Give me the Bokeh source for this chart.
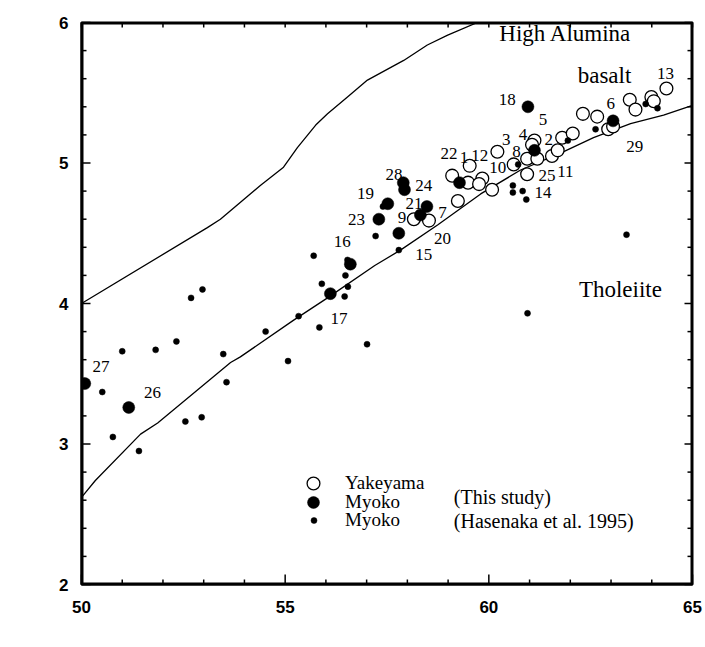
from bokeh.plotting import figure
from bokeh.models import LinearAxis, FixedTicker, Range1d, Label, Legend, LegendItem
from bokeh.core.properties import value
from bokeh.embed import file_html
from bokeh.resources import INLINE
import math

# ---------------- data ----------------
yake_x = [58.16, 58.53, 59.24, 59.10, 59.53, 59.49, 59.84, 59.76, 60.08, 60.21,
          60.61, 60.94, 60.94, 61.12, 61.06, 61.19, 61.55, 61.69, 61.80, 62.06,
          62.31, 62.66, 62.93, 63.05, 63.46, 63.60, 63.99, 64.05, 64.36]
yake_y = [4.60, 4.59, 4.73, 4.91, 4.98, 4.86, 4.89, 4.85, 4.81, 5.08,
          4.99, 5.03, 4.92, 5.16, 5.13, 5.03, 5.05, 5.09, 5.18, 5.21,
          5.35, 5.33, 5.24, 5.26, 5.45, 5.38, 5.47, 5.44, 5.53]

myoko_x = [50.08, 51.16, 56.11, 56.60, 57.30, 57.52, 57.79, 57.90, 57.93, 58.32,
           58.48, 59.28, 60.96, 61.12, 63.05]
myoko_y = [3.43, 3.26, 4.07, 4.28, 4.60, 4.71, 4.50, 4.86, 4.81, 4.63,
           4.69, 4.86, 5.40, 5.09, 5.30]

hase_x = [50.51, 50.77, 51.00, 51.41, 51.82, 52.33, 52.55, 52.69, 52.95, 52.97,
          53.48, 53.56, 54.52, 55.07, 55.33, 55.70, 55.84, 55.90, 56.46, 56.48,
          56.54, 56.53, 57.01, 57.22, 57.40, 57.79, 60.59, 60.59, 60.83, 60.92,
          60.72, 60.95, 61.94, 62.62, 63.38, 63.85, 64.14]
hase_y = [3.37, 3.05, 3.66, 2.95, 3.67, 3.73, 3.16, 4.04, 3.19, 4.10,
          3.64, 3.44, 3.80, 3.59, 3.91, 4.34, 3.83, 4.14, 4.05, 4.20,
          4.12, 4.31, 3.71, 4.48, 4.69, 4.38, 4.84, 4.79, 4.80, 4.74,
          4.99, 3.93, 5.16, 5.24, 4.49, 5.42, 5.39]

upper_x = [50.0, 53.09, 53.41, 54.39, 54.96, 55.30, 55.75, 56.04, 56.53, 57.02,
           57.91, 58.49, 58.99, 59.72]
upper_y = [4.00, 4.54, 4.60, 4.84, 4.97, 5.11, 5.27, 5.35, 5.47, 5.59,
           5.73, 5.84, 5.91, 6.00]

lower_x = [50.0, 50.34, 51.45, 51.87, 53.66, 53.90, 55.20, 56.04, 57.20, 57.83,
           58.75, 59.80, 60.78, 61.76, 62.57, 63.48, 64.29, 65.0]
lower_y = [2.62, 2.74, 3.07, 3.15, 3.58, 3.62, 3.88, 4.04, 4.27, 4.38,
           4.56, 4.78, 4.95, 5.07, 5.18, 5.28, 5.34, 5.41]

num_text = ["13", "6", "18", "5", "4", "2", "3", "8", "22", "1", "12", "10", "29",
            "25", "11", "14", "28", "24", "21", "7", "9", "20", "15", "19", "23",
            "16", "17", "27", "26"]
num_x = [64.34, 62.99, 60.45, 61.33, 60.84, 61.47, 60.43, 60.68, 59.02, 59.39,
         59.78, 60.22, 63.58, 61.43, 61.88, 61.33, 57.67, 58.40, 58.16, 58.86,
         57.87, 58.86, 58.40, 56.97, 56.75, 56.40, 56.32, 50.48, 51.74]
num_y = [5.64, 5.42, 5.45, 5.31, 5.20, 5.17, 5.17, 5.08, 5.07, 5.04,
         5.05, 4.97, 5.12, 4.91, 4.94, 4.79, 4.92, 4.84, 4.71, 4.65,
         4.61, 4.46, 4.35, 4.78, 4.60, 4.44, 3.89, 3.55, 3.37]

x_major = [50, 55, 60, 65]
x_minor = list(range(50, 66))
y_major = [2, 3, 4, 5, 6]
y_minor = [round(2 + 0.2 * i, 1) for i in range(21)]

SERIF = "Liberation Serif"
SANS = "Liberation Sans"

X0, X1, Y0, Y1 = 50, 65, 2, 6
FRAME_W, FRAME_H = 611, 562
DX = (X1 - X0) / FRAME_W   # data units per pixel
DY = (Y1 - Y0) / FRAME_H

# ---------------- figure ----------------
p = figure(width=705, height=647, x_range=Range1d(X0, X1), y_range=Range1d(Y0, Y1),
           output_backend="svg", toolbar_location=None,
           x_axis_location=None, y_axis_location=None,
           min_border_left=81, min_border_right=13, min_border_top=22, min_border_bottom=63)
p.background_fill_color = None
p.border_fill_color = None
p.outline_line_color = "black"
p.outline_line_width = 2
p.xgrid.visible = False
p.ygrid.visible = False


def style_axis(ax):
    ax.axis_line_width = 2
    ax.axis_line_color = "black"
    ax.major_tick_in = 0
    ax.major_tick_out = 0
    ax.minor_tick_in = 0
    ax.minor_tick_out = 0
    ax.major_label_text_font = SANS
    ax.major_label_text_font_style = "bold"
    ax.major_label_text_font_size = "17px"
    ax.major_label_text_color = "black"


bottom = LinearAxis(ticker=FixedTicker(ticks=x_major, minor_ticks=[]))
style_axis(bottom)
bottom.major_label_standoff = 16
p.add_layout(bottom, "below")

left = LinearAxis(ticker=FixedTicker(ticks=y_major, minor_ticks=[]))
style_axis(left)
left.major_label_standoff = 13
p.add_layout(left, "left")

# boundary curves
p.line(upper_x, upper_y, line_color="black", line_width=1.3)
p.line(lower_x, lower_y, line_color="black", line_width=1.3)

# points
r_open = p.scatter(yake_x, yake_y, marker="circle", size=12.8, fill_color="white",
                   line_color="black", line_width=1.3)
r_big = p.scatter(myoko_x, myoko_y, marker="circle", size=12, fill_color="black",
                  line_color="black", line_width=0.5)
r_small = p.scatter(hase_x, hase_y, marker="circle", size=6, fill_color="black",
                    line_color="black", line_width=0.5)

# sample numbers
p.text(x=num_x, y=num_y, text=num_text, text_font=value(SERIF), text_font_size="17px",
       text_align="center", text_baseline="middle", text_color="black")

# field names
for txt, x, y in [("High Alumina", 61.88, 5.92), ("basalt", 62.84, 5.62),
                  ("Tholeiite", 63.23, 4.10)]:
    p.add_layout(Label(x=x, y=y, text=txt, text_font=SERIF, text_font_size="23px",
                       text_align="center", text_baseline="middle", text_color="black"))

# axis titles
p.add_layout(Label(x=60.14, y=1.67, text="SiO\u2082", text_font=SERIF, text_font_size="24px",
                   text_align="center", text_baseline="middle", text_color="black"))
p.add_layout(Label(x=48.75, y=4.04, text="Na\u2082O+K\u2082O", text_font=SERIF,
                   text_font_size="24px", angle=math.pi / 2, text_align="center",
                   text_baseline="middle", text_color="black"))


# legend
def make_legend(label, rend, loc, gw, standoff):
    lg = Legend(items=[LegendItem(label=label, renderers=[rend])], location=loc,
                glyph_width=gw, glyph_height=32, label_standoff=standoff,
                padding=0, margin=0, spacing=0, border_line_color=None,
                background_fill_alpha=0, label_text_font=SERIF,
                label_text_font_size="19px", label_text_color="black")
    p.add_layout(lg)


make_legend("Yakeyama", r_open, (216, 85), 32, 16)
make_legend("Myoko", r_big, (217, 66), 30, 17)
make_legend("Myoko", r_small, (225, 48), 15, 24)

p.add_layout(Label(x=59.14, y=2.62, text="(This study)", text_font=SERIF, text_font_size="20px",
                   text_align="left", text_baseline="middle", text_color="black"))
p.add_layout(Label(x=59.14, y=2.45, text="(Hasenaka et al. 1995)", text_font=SERIF,
                   text_font_size="20px", text_align="left", text_baseline="middle",
                   text_color="black"))

# ---- frame and inward ticks as thin filled bars, drawn last ----
FT = 2.0    # frame thickness (px)
TH = 0.75   # half tick width (px)
ql, qr, qb, qt = [], [], [], []
# frame edges
ql += [X0, X0, X0, X1 - FT * DX]
qr += [X1, X1, X0 + FT * DX, X1]
qb += [Y0, Y1 - FT * DY, Y0, Y0]
qt += [Y0 + FT * DY, Y1, Y1, Y1]
# bottom and top ticks
for v in x_minor:
    ln = 10 if v in x_major else 5
    ql.append(v - TH * DX); qr.append(v + TH * DX); qb.append(Y0); qt.append(Y0 + ln * DY)
    ql.append(v - TH * DX); qr.append(v + TH * DX); qb.append(Y1 - 5 * DY); qt.append(Y1)
# left and right ticks
for v in y_minor:
    ln_l = 9 if v in y_major else 5
    ln_r = 8 if v in y_major else 5
    ql.append(X0); qr.append(X0 + ln_l * DX); qb.append(v - TH * DY); qt.append(v + TH * DY)
    ql.append(X1 - ln_r * DX); qr.append(X1); qb.append(v - TH * DY); qt.append(v + TH * DY)
p.quad(left=ql, right=qr, bottom=qb, top=qt, fill_color="black", line_color=None,
       level="overlay")

open("out.html", "w").write(file_html(p, INLINE))
